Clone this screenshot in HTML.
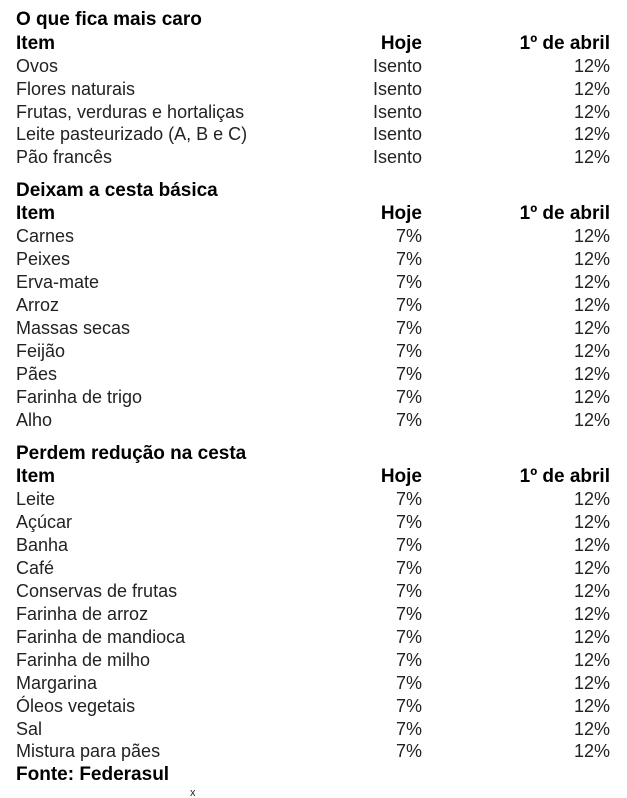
<!DOCTYPE html>
<html><head><meta charset="utf-8"><style>
html,body{margin:0;padding:0;background:#fff;width:627px;height:798px;overflow:hidden}
body{position:relative;font-family:"Liberation Sans",sans-serif;font-size:18px;color:#222}
.r{position:absolute;left:0;width:627px;height:23px;line-height:23px;margin-top:1px}
.r span{position:absolute;white-space:nowrap}
.a{left:16px}.b{right:205px}.c{right:17px}
.h{font-weight:bold;color:#000;font-size:19px}
</style></head><body>
<div class="r h" style="top:7px"><span class="a">O que fica mais caro</span></div>
<div class="r h" style="top:31px"><span class="a">Item</span><span class="b">Hoje</span><span class="c">1º de abril</span></div>
<div class="r" style="top:54px"><span class="a">Ovos</span><span class="b">Isento</span><span class="c">12%</span></div>
<div class="r" style="top:77px"><span class="a">Flores naturais</span><span class="b">Isento</span><span class="c">12%</span></div>
<div class="r" style="top:100px"><span class="a">Frutas, verduras e hortaliças</span><span class="b">Isento</span><span class="c">12%</span></div>
<div class="r" style="top:122px"><span class="a">Leite pasteurizado (A, B e C)</span><span class="b">Isento</span><span class="c">12%</span></div>
<div class="r" style="top:145px"><span class="a">Pão francês</span><span class="b">Isento</span><span class="c">12%</span></div>

<div class="r h" style="top:178px"><span class="a">Deixam a cesta básica</span></div>
<div class="r h" style="top:201px"><span class="a">Item</span><span class="b">Hoje</span><span class="c">1º de abril</span></div>
<div class="r" style="top:224px"><span class="a">Carnes</span><span class="b">7%</span><span class="c">12%</span></div>
<div class="r" style="top:247px"><span class="a">Peixes</span><span class="b">7%</span><span class="c">12%</span></div>
<div class="r" style="top:270px"><span class="a">Erva-mate</span><span class="b">7%</span><span class="c">12%</span></div>
<div class="r" style="top:293px"><span class="a">Arroz</span><span class="b">7%</span><span class="c">12%</span></div>
<div class="r" style="top:316px"><span class="a">Massas secas</span><span class="b">7%</span><span class="c">12%</span></div>
<div class="r" style="top:339px"><span class="a">Feijão</span><span class="b">7%</span><span class="c">12%</span></div>
<div class="r" style="top:362px"><span class="a">Pães</span><span class="b">7%</span><span class="c">12%</span></div>
<div class="r" style="top:385px"><span class="a">Farinha de trigo</span><span class="b">7%</span><span class="c">12%</span></div>
<div class="r" style="top:408px"><span class="a">Alho</span><span class="b">7%</span><span class="c">12%</span></div>

<div class="r h" style="top:441px"><span class="a">Perdem redução na cesta</span></div>
<div class="r h" style="top:464px"><span class="a">Item</span><span class="b">Hoje</span><span class="c">1º de abril</span></div>
<div class="r" style="top:487px"><span class="a">Leite</span><span class="b">7%</span><span class="c">12%</span></div>
<div class="r" style="top:510px"><span class="a">Açúcar</span><span class="b">7%</span><span class="c">12%</span></div>
<div class="r" style="top:533px"><span class="a">Banha</span><span class="b">7%</span><span class="c">12%</span></div>
<div class="r" style="top:556px"><span class="a">Café</span><span class="b">7%</span><span class="c">12%</span></div>
<div class="r" style="top:579px"><span class="a">Conservas de frutas</span><span class="b">7%</span><span class="c">12%</span></div>
<div class="r" style="top:602px"><span class="a">Farinha de arroz</span><span class="b">7%</span><span class="c">12%</span></div>
<div class="r" style="top:625px"><span class="a">Farinha de mandioca</span><span class="b">7%</span><span class="c">12%</span></div>
<div class="r" style="top:648px"><span class="a">Farinha de milho</span><span class="b">7%</span><span class="c">12%</span></div>
<div class="r" style="top:671px"><span class="a">Margarina</span><span class="b">7%</span><span class="c">12%</span></div>
<div class="r" style="top:694px"><span class="a">Óleos vegetais</span><span class="b">7%</span><span class="c">12%</span></div>
<div class="r" style="top:717px"><span class="a">Sal</span><span class="b">7%</span><span class="c">12%</span></div>
<div class="r" style="top:739px"><span class="a">Mistura para pães</span><span class="b">7%</span><span class="c">12%</span></div>
<div class="r h" style="top:762px"><span class="a">Fonte: Federasul</span></div>
<div style="position:absolute;left:190px;top:787px;font-size:11px;line-height:12px">x</div>
</body></html>
